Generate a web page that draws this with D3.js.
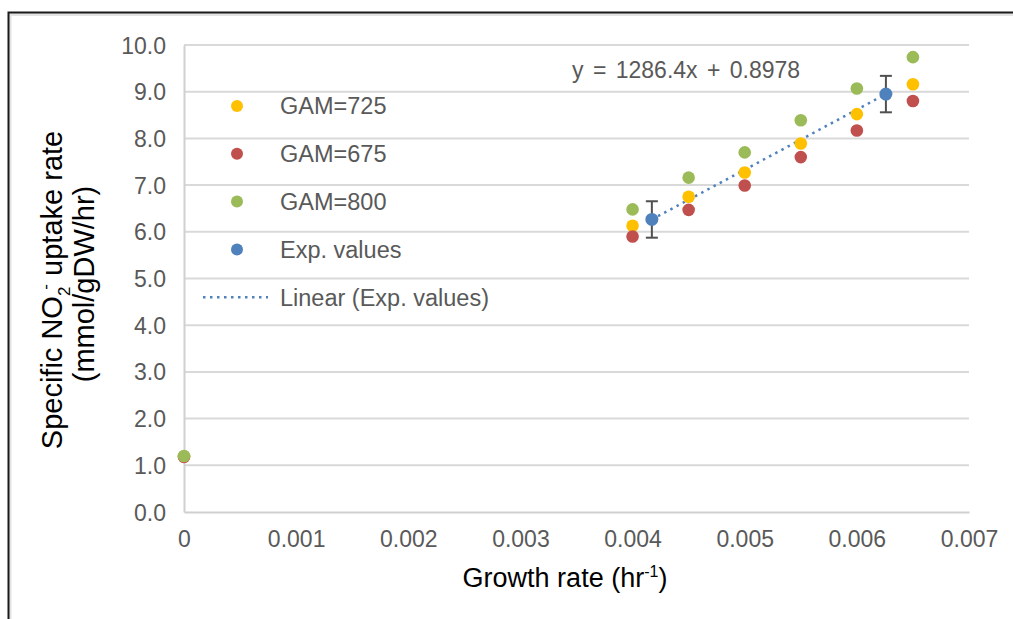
<!DOCTYPE html>
<html>
<head>
<meta charset="utf-8">
<script src="https://cdn.jsdelivr.net/npm/d3@7"></script>
<style>
  html, body { margin: 0; padding: 0; background: #fff; }
  svg { display: block; font-family: "Liberation Sans", Arial, sans-serif; }
</style>
</head>
<body>
<svg id="chart" width="1013" height="619"></svg>
<script>
// Growth rate (hr^-1) sampled by the model runs
const growthRates = [0, 0.004, 0.0045, 0.005, 0.0055, 0.006, 0.0065];
// Specific NO2- uptake rate (mmol/gDW/hr) per GAM setting
const gam725 = [1.19, 6.13, 6.75, 7.27, 7.89, 8.52, 9.16];
const gam675 = [1.18, 5.90, 6.47, 6.99, 7.60, 8.17, 8.80];
const gam800 = [1.20, 6.48, 7.16, 7.70, 8.39, 9.07, 9.74];
// Experimental measurements with standard deviation
const expRates = [0.004172, 0.006259];
const expValues = [6.264, 8.949];
const expErrors = [0.39, 0.39];
// Linear fit of the experimental values
const fitSlope = 1286.4;
const fitIntercept = 0.8978;
const xTicks = [0, 0.001, 0.002, 0.003, 0.004, 0.005, 0.006, 0.007];
const yTicks = [0, 1, 2, 3, 4, 5, 6, 7, 8, 9, 10];

const colors = {
  gam725: "#FFC000",
  gam675: "#C0504D",
  gam800: "#9BBB59",
  exp: "#4F81BD"
};

const svg = d3.select("#chart");

// outer frame
svg.append("rect").attr("x", 10).attr("y", 14.5).attr("width", 1010).attr("height", 610)
  .attr("fill", "none").attr("stroke", "#e3e3e3").attr("stroke-width", 3);
svg.append("path").attr("d", "M8.5,619 V12.5 H1013")
  .attr("fill", "none").attr("stroke", "#1a1a1a").attr("stroke-width", 2);

const x = d3.scaleLinear().domain([0, 0.007]).range([184, 969]);
const y = d3.scaleLinear().domain([0, 10]).range([512, 45]);

// gridlines
svg.append("g")
  .selectAll("line").data(yTicks.filter(d => d > 0)).join("line")
  .attr("x1", x(0)).attr("x2", x(0.007))
  .attr("y1", d => y(d)).attr("y2", d => y(d))
  .attr("stroke", "#d9d9d9").attr("stroke-width", 2);

// axes
const yAxis = svg.append("g").attr("transform", `translate(${x(0)},0)`)
  .call(d3.axisLeft(y).tickValues(yTicks).tickFormat(d3.format(".1f")).tickSize(0).tickPadding(18));
const xAxis = svg.append("g").attr("transform", `translate(0,${y(0)})`)
  .call(d3.axisBottom(x).tickValues(xTicks).tickFormat(d => d === 0 ? "0" : d3.format(".3f")(d)).tickSize(0).tickPadding(19));
[yAxis, xAxis].forEach(a => {
  a.select(".domain").attr("stroke", "#d0d0d0").attr("stroke-width", 2);
  a.selectAll("text").attr("fill", "#595959").attr("font-size", 23)
    .attr("font-family", "'Liberation Sans', Arial, sans-serif");
});
yAxis.selectAll("text").attr("dy", "0.35em");

// axis titles
svg.append("text").attr("x", 565).attr("y", 587).attr("text-anchor", "middle")
  .attr("font-size", 27).attr("fill", "#000")
  .call(t => {
    t.append("tspan").text("Growth rate (hr");
    t.append("tspan").attr("dy", -10).attr("font-size", 16).text("-1");
    t.append("tspan").attr("dy", 10).text(")");
  });

const yTitle = svg.append("g").attr("transform", "translate(62,290) rotate(-90)");
yTitle.append("text").attr("text-anchor", "middle").attr("font-size", 29).attr("fill", "#000")
  .call(t => {
    t.append("tspan").text("Specific NO");
    t.append("tspan").attr("dy", 8).attr("font-size", 17).text("2");
    t.append("tspan").attr("dx", -3).attr("dy", -19).attr("font-size", 17).text("-");
    t.append("tspan").attr("dy", 11).text(" uptake rate");
  });
yTitle.append("text").attr("x", 6).attr("y", 32).attr("text-anchor", "middle").attr("font-size", 29).attr("fill", "#000")
  .text("(mmol/gDW/hr)");

// trendline over the experimental range
const fitX = d3.extent(expRates);
svg.append("line")
  .attr("x1", x(fitX[0])).attr("y1", y(fitSlope * fitX[0] + fitIntercept))
  .attr("x2", x(fitX[1])).attr("y2", y(fitSlope * fitX[1] + fitIntercept))
  .attr("stroke", colors.exp).attr("stroke-width", 2.5)
  .attr("stroke-dasharray", "2.5,4.5").attr("stroke-linecap", "butt");

// model series
const series = [
  { key: "gam725", values: gam725 },
  { key: "gam675", values: gam675 },
  { key: "gam800", values: gam800 }
];
series.forEach(s => {
  svg.append("g").selectAll("circle").data(growthRates).join("circle")
    .attr("cx", d => x(d)).attr("cy", (d, i) => y(s.values[i]))
    .attr("r", 6.3).attr("fill", colors[s.key]);
});

// experimental points with error bars
const eb = svg.append("g").attr("stroke", "#505050").attr("stroke-width", 2);
expRates.forEach((r, i) => {
  const top = y(expValues[i] + expErrors[i]);
  const bot = y(expValues[i] - expErrors[i]);
  eb.append("line").attr("x1", x(r)).attr("x2", x(r)).attr("y1", top).attr("y2", bot);
  eb.append("line").attr("x1", x(r) - 6).attr("x2", x(r) + 6).attr("y1", top).attr("y2", top);
  eb.append("line").attr("x1", x(r) - 6).attr("x2", x(r) + 6).attr("y1", bot).attr("y2", bot);
});
svg.append("g").selectAll("circle").data(expRates).join("circle")
  .attr("cx", d => x(d)).attr("cy", (d, i) => y(expValues[i]))
  .attr("r", 6.5).attr("fill", colors.exp);

// trendline equation
svg.append("text").attr("x", 572).attr("y", 78).attr("font-size", 23).attr("word-spacing", 3)
  .attr("fill", "#595959")
  .text(`y = ${fitSlope}x + ${fitIntercept}`);

// legend
const legendItems = [
  { label: "GAM=725", color: colors.gam725, type: "dot" },
  { label: "GAM=675", color: colors.gam675, type: "dot" },
  { label: "GAM=800", color: colors.gam800, type: "dot" },
  { label: "Exp. values", color: colors.exp, type: "dot" },
  { label: "Linear (Exp. values)", color: colors.exp, type: "line" }
];
const legend = svg.append("g");
legendItems.forEach((it, i) => {
  const cy = 106 + i * 47.8;
  if (it.type === "dot") {
    legend.append("circle").attr("cx", 237).attr("cy", cy).attr("r", 6).attr("fill", it.color);
  } else {
    legend.append("line").attr("x1", 203).attr("x2", 268).attr("y1", cy).attr("y2", cy)
      .attr("stroke", it.color).attr("stroke-width", 2.5).attr("stroke-dasharray", "2.5,4.5");
  }
  legend.append("text").attr("x", 280).attr("y", cy).attr("dy", "0.36em")
    .attr("font-size", 23.5).attr("fill", "#595959").text(it.label);
});
</script>
</body>
</html>
